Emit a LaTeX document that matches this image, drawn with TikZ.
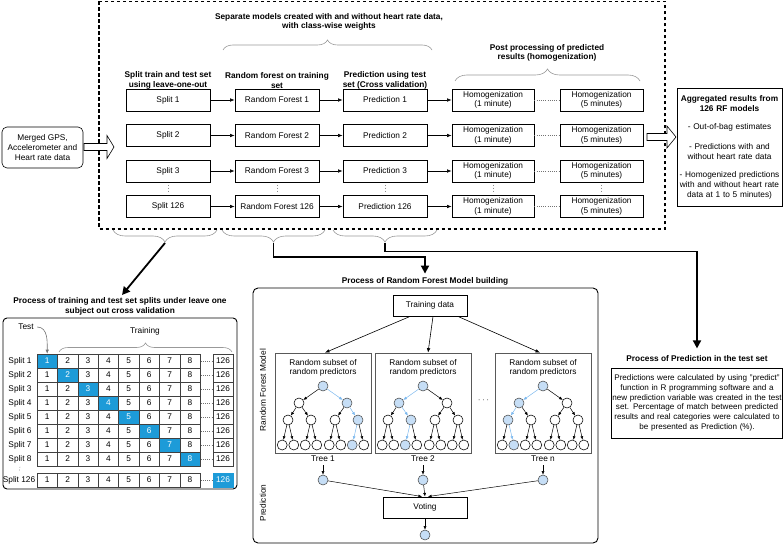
\documentclass[tikz,border=0pt]{standalone}
\usepackage{fontspec}
\setmainfont{Liberation Sans}
\usetikzlibrary{arrows.meta,decorations.pathreplacing,calc}
\definecolor{cblue}{RGB}{198,222,246}
\definecolor{eblue}{RGB}{125,185,238}
\definecolor{tblue}{RGB}{29,155,216}
\newcommand\myfs{\fontsize{8.3}{9.5}\selectfont}
\newcommand\mybf{\fontsize{8.3}{9.5}\selectfont\bfseries}
\newcommand\mytree[5]{%
  \node[bc] (#1r) at (#2,386) {};
  \foreach \i/\dx in {1/-24,2/24}{%
    \pgfmathsetmacro\xx{#2+\dx}
    \ifnum\i=#3\relax\tikzset{cur/.style={bc},ed/.style={barr}}\else\tikzset{cur/.style={wc},ed/.style={karr}}\fi
    \node[cur] (#1a\i) at (\xx,403) {};
    \draw[ed] (#1r) -- (#1a\i);
  }
  \foreach \j/\dx/\p in {1/-35/1,2/-12/1,3/12/2,4/35/2}{%
    \pgfmathsetmacro\xx{#2+\dx}
    \ifnum\j=#4\relax\tikzset{cur/.style={bc},ed/.style={barr}}\else\tikzset{cur/.style={wc},ed/.style={karr}}\fi
    \node[cur] (#1b\j) at (\xx,420) {};
    \draw[ed] (#1a\p) -- (#1b\j);
  }
  \foreach \k/\dx/\p in {1/-40.8/1,2/-29.2/1,3/-17.8/2,4/-6.2/2,5/6.2/3,6/17.8/3,7/29.2/4,8/40.8/4}{%
    \pgfmathsetmacro\xx{#2+\dx}
    \ifnum\k=#5\relax\tikzset{cur/.style={bc},ed/.style={barr}}\else\tikzset{cur/.style={wc},ed/.style={karr}}\fi
    \node[cur] (#1c\k) at (\xx,445) {};
    \draw[ed] (#1b\p) -- (#1c\k);
  }
}
\begin{document}
\begin{tikzpicture}[x=1pt,y=-1pt,
  box/.style={draw, line width=0.9pt, minimum width=84, minimum height=22, inner sep=1, font=\myfs, align=center},
  hdr/.style={font=\mybf, align=center},
  arr/.style={-{Latex[length=4.5pt,width=3.6pt]}, line width=0.6pt},
  karr/.style={-{Latex[length=3.6pt,width=3pt]}, line width=0.5pt},
  barr/.style={karr, draw=eblue, -{Latex[length=3.6pt,width=3pt,fill=eblue]}},
  bc/.style={circle, draw=black!70, fill=cblue, minimum size=10, inner sep=0, line width=0.55pt},
  wc/.style={circle, draw=black, fill=white, minimum size=10, inner sep=0, line width=0.55pt},
  br/.style={decorate, decoration={brace, amplitude=#1}, draw=black!40, line width=0.6pt},
  tarr/.style={line width=1.8pt, -{Triangle[length=8pt,width=8pt]}},
  dots/.style={draw=black!55, line width=0.6pt, dash pattern=on 0.8pt off 1.4pt},
  vdots/.style={draw=black!45, line width=0.7pt, dash pattern=on 0.8pt off 2pt},
  cell/.style={draw=black!75, line width=0.6pt, minimum width=20.4, minimum height=14, inner sep=0, font=\myfs},
  cellb/.style={cell, fill=tblue, text=white},
  sbox/.style={draw=black!65, line width=0.7pt, minimum width=96, minimum height=100, inner sep=0}
]
\useasboundingbox (0,0) rectangle (784,545);

% ---------- top dashed block ----------
\draw[line width=1.2pt, dash pattern=on 3.5pt off 2.5pt] (99,1.5) rectangle (665,229);

\node[hdr] (sep) at (329,22) {Separate models created with and without heart rate data,\\with class-wise weights};
\draw[br=10] (223,50) -- (432,50);

\node[hdr] (h1) at (168,80.5) {Split train and test set\\using leave-one-out};
\node[hdr] (h2) at (277,80.5) {Random forest on training\\set};
\node[hdr] (h3) at (385,80.5) {Prediction using test\\set (Cross validation)};
\node[hdr] (h4) at (547,53) {Post processing of predicted\\results (homogenization)};
\draw[br=12] (455,81) -- (640,81);

\foreach \r/\y/\lab in {1/100/1,2/135.5/2,3/171/3,4/206.5/126}{
  \node[box] (s\r) at (168,\y) {Split \lab};
  \node[box] (rf\r) at (277,\y) {Random Forest \lab};
  \node[box] (pr\r) at (385,\y) {Prediction \lab};
  \node[box, minimum width=82] (ha\r) at (493,\y) {Homogenization\\(1 minute)};
  \node[box, minimum width=83] (hb\r) at (601.5,\y) {Homogenization\\(5 minutes)};
  \draw[arr] (s\r) -- (rf\r);
  \draw[arr] (rf\r) -- (pr\r);
  \draw[arr] (pr\r) -- (ha\r);
  \draw[dots] (ha\r) -- (hb\r);
}
\foreach \n in {s,rf,pr,ha,hb}{
  \draw[vdots, shorten <=2.5pt, shorten >=2.5pt] (\n3.south) -- (\n4.north);
}

% merged input
\node[draw, rounded corners=5, line width=0.6pt, minimum width=81, minimum height=41, align=center,
  font=\fontsize{8.3}{10}\selectfont, inner sep=1] (mg) at (42.5,147.5) {Merged GPS,\\Accelerometer and\\Heart rate data};
\draw[line width=0.6pt, fill=white] (84,143.5) -- (107,143.5) -- (107,135.5) -- (114,147) -- (107,158.5) -- (107,150.5) -- (84,150.5) -- cycle;

% aggregated
\draw[line width=0.6pt, fill=white] (647,133.5) -- (667,133.5) -- (667,126) -- (676,137) -- (667,148) -- (667,140.5) -- (647,140.5) -- cycle;
\node[draw, line width=0.9pt, minimum width=105, minimum height=118, text width=104, align=center,
  font=\fontsize{8.3}{10}\selectfont, inner sep=0.5] (agg) at (729.5,147)
  {{\bfseries Aggregated results from\\126 RF models}\\[8pt]
   - Out-of-bag estimates\\[10pt]
   - Predictions with and\\without heart rate data\\[8pt]
   - Homogenized predictions\\with and without heart rate\\data at 1 to 5 minutes)};

% bottom braces
\draw[br=12] (217,230) -- (113,230);
\draw[br=12] (325,230) -- (222,230);
\draw[br=12] (437,230) -- (333,230);
\coordinate (bt1) at (165,243);
\coordinate (bt2) at (273.5,243);
\coordinate (bt3) at (385,243);

% ---------- left: table ----------
\node[hdr] (tt) at (120,306.5) {Process of training and test set splits under leave one\\subject out cross validation};
\coordinate (a1e) at (122,295);
\draw[tarr] (bt1) -- (a1e);
\draw[line width=0.9pt, rounded corners=4] (3,318) rectangle (237,489);

\node[font=\myfs] (test) at (26,327) {Test};
\node[font=\myfs] (trn) at (145,331) {Training};
\draw[br=9] (59,352) -- (232,352);

\foreach \r in {1,...,8}{
  \pgfmathsetmacro\yy{361+(\r-1)*14}
  \node[font=\myfs] (sl\r) at (20,\yy) {Split \r};
  \foreach \c in {1,...,8}{
    \pgfmathsetmacro\xx{47.2+(\c-1)*20.4}
    \ifnum\c=\r\relax
      \node[cellb] (c\r-\c) at (\xx,\yy) {\c};
    \else
      \node[cell] (c\r-\c) at (\xx,\yy) {\c};
    \fi
  }
  \node[cell] (c\r-x) at (223,\yy) {126};
  \draw[dots] (c\r-8) -- (c\r-x);
}
\node[font=\myfs] (sl126) at (19,480) {Split 126};
\foreach \c in {1,...,8}{
  \pgfmathsetmacro\xx{47.2+(\c-1)*20.4}
  \node[cell] (cz-\c) at (\xx,480) {\c};
}
\node[cellb, draw=tblue] (cz-x) at (223,480) {126};
\draw[dots] (cz-8) -- (cz-x);
\draw[vdots, shorten <=0.5pt, shorten >=0.5pt] (sl8.south) -- (sl126.north);
\draw[draw=black!55, line width=0.6pt, -{Latex[length=4pt,width=3.5pt]}] (test.east) to[out=0,in=90] (c1-1.north);

% ---------- middle: random forest ----------
\node[hdr] (rft) at (425,281) {Process of Random Forest Model building};
\coordinate (rfk) at (425,257);
\draw[tarr] (bt2) |- (rfk) -- (rft.north);
\draw[line width=0.9pt, rounded corners=5] (253,288) rectangle (598,543);

\node[box, minimum width=74, minimum height=21] (td) at (430,305.5) {Training data};
\node[font=\myfs, rotate=90] (rfm) at (263,390) {Random Forest Model};
\node[font=\myfs, rotate=90] (prl) at (263,503) {Prediction};

\foreach \t/\x/\lab in {1/323/Tree 1,2/423/Tree 2,3/543/Tree n}{
  \node[sbox] (sb\t) at (\x,403) {};
  \node[font=\myfs, align=center] (st\t) at (\x,368) {Random subset of\\random predictors};
  \node[font=\myfs] (tl\t) at (\x,459) {\lab};
  \node[bc] (p\t) at (\x,480) {};
  \draw[karr] (tl\t) -- (p\t);
}
\mytree{T1}{323}{2}{4}{7}
\mytree{T2}{423}{1}{2}{3}
\mytree{T3}{543}{1}{1}{2}
\node[font=\myfs, text=black!70] (dd) at (483.5,401) {·\,·\,·};

\draw[arr] ([xshift=-20]td.south) -- ([xshift=2]sb1.north);
\draw[arr] ([xshift=3]td.south) -- ([xshift=5]sb2.north);
\draw[arr] ([xshift=28]td.south) -- ([xshift=-3]sb3.north);

\node[box, minimum width=84, minimum height=21] (vt) at (425,507.5) {Voting};
\draw[karr] (p1) -- ([xshift=-3]vt.north);
\draw[karr] (p2) -- (vt.north);
\draw[karr] (p3) -- ([xshift=3]vt.north);
\node[bc] (pf) at (425,535) {};
\draw[karr] (vt) -- (pf);

% ---------- right: prediction ----------
\node[hdr] (ppt) at (697,359) {Process of Prediction in the test set};
\coordinate (ppk) at (697,251.5);
\draw[tarr] (bt3) |- (ppk) -- ([yshift=4]ppt.north);
\node[draw, line width=0.9pt, text width=170, align=center, font=\fontsize{8.1}{9.8}\selectfont,
  inner sep=0.8, minimum height=70] (ppb) at (697,403)
  {Predictions were calculated by using "predict"\\function in R programming software and a\\new prediction variable was created in the test\\set. Percentage of match between predicted\\results and real categories were calculated to\\be presented as Prediction (\%).};
\end{tikzpicture}
\end{document}
